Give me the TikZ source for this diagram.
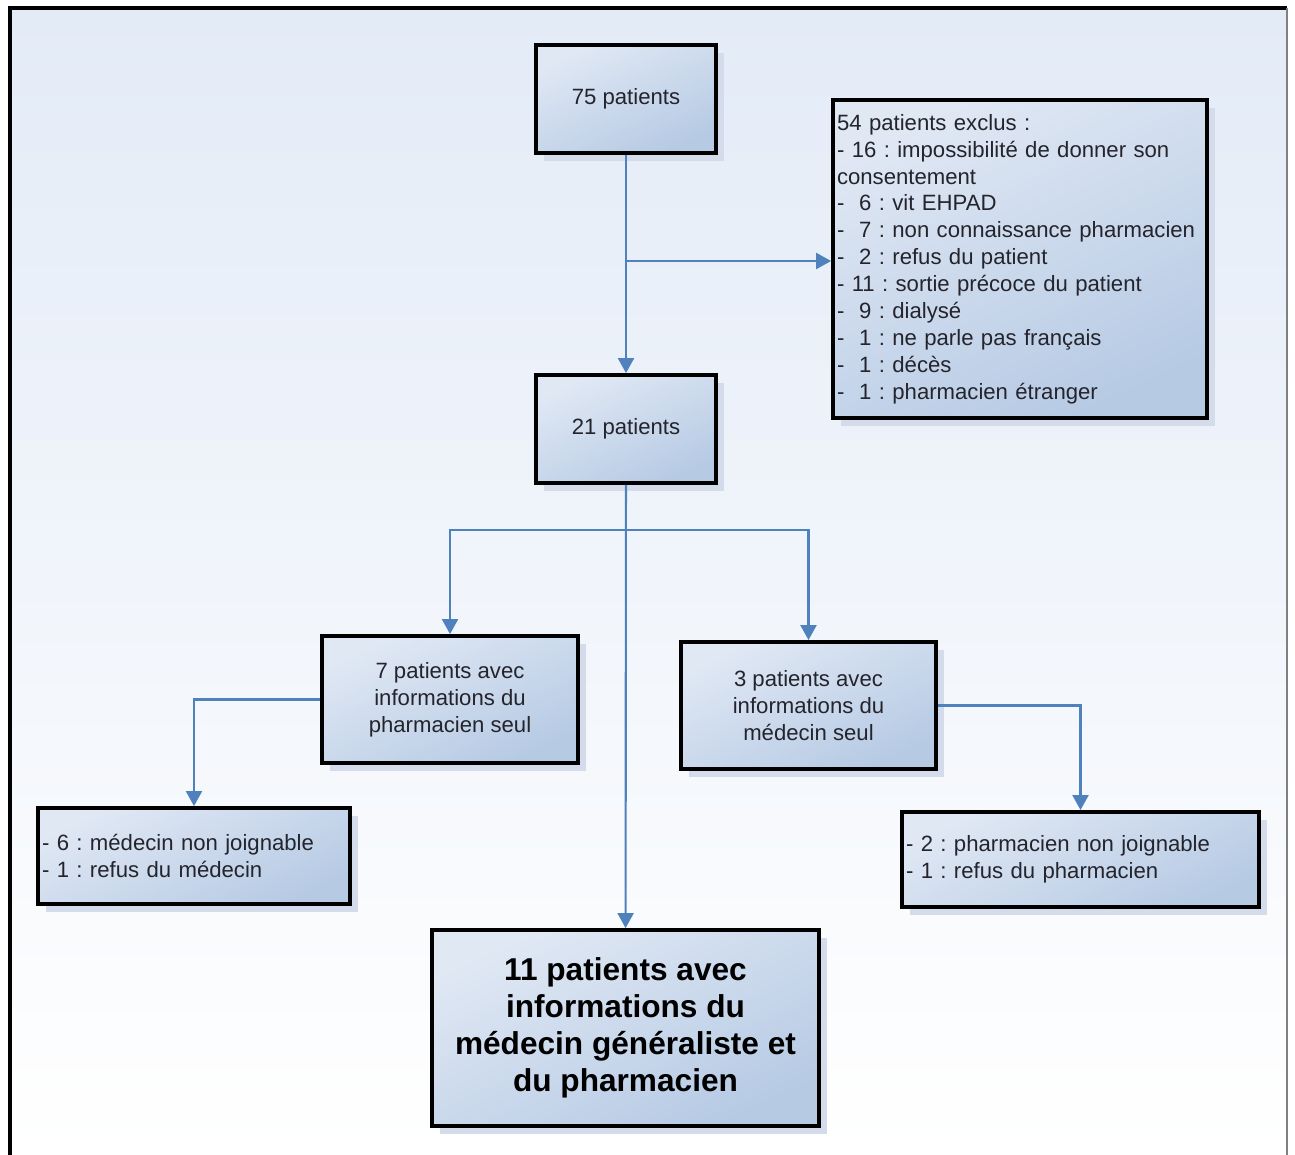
\documentclass[tikz,border=0pt]{standalone}
\usepackage{fontspec}
\setmainfont{Liberation Sans}
\usetikzlibrary{shadows,arrows.meta}
\frenchspacing

\definecolor{linkblue}{RGB}{79,129,189}
\definecolor{boxtop}{RGB}{224,232,244}
\definecolor{boxbottom}{RGB}{182,202,228}
\definecolor{shadowblue}{RGB}{212,219,234}
\definecolor{pagetop}{RGB}{227,235,247}
\definecolor{inktext}{RGB}{36,36,44}

\tikzset{
  box/.style={draw=black, line width=2.2pt, top color=boxtop, bottom color=boxbottom,
    shading angle=25, text=inktext,
    drop shadow={shadow xshift=0.16cm, shadow yshift=-0.16cm, fill=shadowblue, opacity=1}},
  listbox/.style={box, align=left, inner xsep=0.08cm, font=\fontsize{12.6}{15.3}\selectfont},
  midbox/.style={box, align=center, font=\fontsize{12.6}{15.3}\selectfont},
  link/.style={draw=linkblue, line width=1.2pt, ->},
}

\begin{document}
\begin{tikzpicture}[x=0.02cm, y=-0.02cm, >={Triangle[length=0.3cm, width=0.32cm]}]

\useasboundingbox (0,0) rectangle (1295,1155);
\fill[white] (0,0) rectangle (1295,1155);
\shade[top color=pagetop, bottom color=white] (10,8) rectangle (1287,1155);
\draw[line width=2.2pt] (10,1155) -- (10,8) -- (1287,8);
\draw[gray, line width=1.2pt] (1287,8) -- (1287,1155);

\node[midbox, minimum width=3.6cm, minimum height=2.16cm] (n75) at (626,99) {75 patients};

\node[listbox, text width=7.32cm, minimum height=6.36cm] (excl) at (1020,259) {54 patients exclus :\\
- 16 : impossibilité de donner son\\
consentement\\
-~~6 : vit EHPAD\\
-~~7 : non connaissance pharmacien\\
-~~2 : refus du patient\\
- 11 : sortie précoce du patient\\
-~~9 : dialysé\\
-~~1 : ne parle pas français\\
-~~1 : décès\\
-~~1 : pharmacien étranger};

\node[midbox, minimum width=3.6cm, minimum height=2.16cm] (n21) at (626,429) {21 patients};

\node[midbox, minimum width=5.12cm, minimum height=2.54cm] (ph7) at (450,699.5) {7 patients avec\\informations du\\pharmacien seul};

\node[midbox, minimum width=5.1cm, minimum height=2.54cm] (md3) at (808.5,705.5) {3 patients avec\\informations du\\médecin seul};

\node[listbox, text width=6.08cm, minimum height=1.92cm] (nomed) at (194,856) {- 6 : médecin non joignable\\- 1 : refus du médecin};

\node[listbox, text width=6.98cm, minimum height=1.9cm] (nopharm) at (1080.5,859.5) {- 2 : pharmacien non joignable\\- 1 : refus du pharmacien};

\node[box, align=center, minimum width=7.74cm, minimum height=3.92cm,
  font=\fontsize{18}{21}\bfseries\selectfont, text=black] (n11) at (625.5,1028)
  {11 patients avec\\informations du\\médecin généraliste et\\du pharmacien};

\coordinate (cut1) at (626,261);
\coordinate (cut2) at (626,530);

\draw[link] (n75) -- (n21);
\draw[link] (cut1) -- (cut1 -| excl.west);
\draw[link] (n21) -- (n11);
\draw[link] (cut2) -| (ph7);
\draw[link] (cut2) -| (md3);
\draw[link] (ph7.west) -| (nomed);
\draw[link] (md3.east) -| (nopharm);

\end{tikzpicture}
\end{document}
